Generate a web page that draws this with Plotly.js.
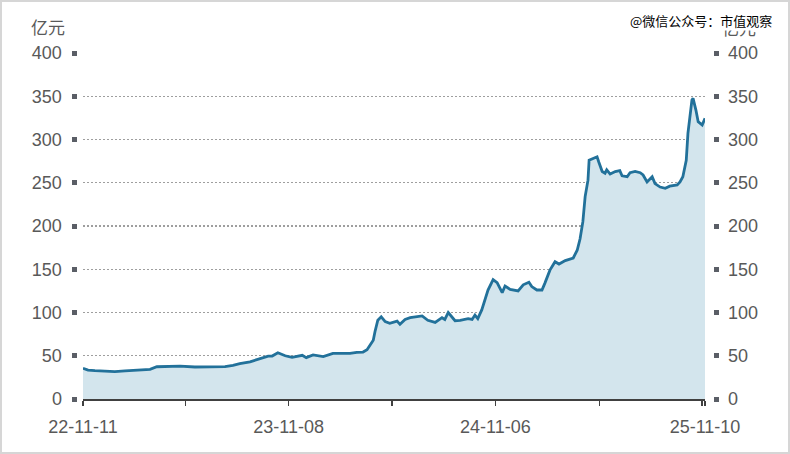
<!DOCTYPE html>
<html>
<head>
<meta charset="utf-8">
<script src="https://cdn.plot.ly/plotly-3.0.1.min.js"></script>
<style>
  html, body { margin: 0; padding: 0; background: #fff; }
  #wrap { position: relative; width: 790px; height: 454px; }
  #chart { position: absolute; left: 0; top: 0; width: 790px; height: 454px; }
  #frame { position: absolute; left: 0; top: 0; width: 790px; height: 454px; box-sizing: border-box; border: 2px solid #d6d6d6; pointer-events: none; }
</style>
</head>
<body>
<div id="wrap"><div id="chart"></div><div id="frame"></div></div>
<script>
// ---- data (亿元) ----
const dates = [
  '2022-11-11','2022-11-20','2022-12-02','2022-12-20','2023-01-06','2023-01-24','2023-02-11','2023-02-28',
  '2023-03-09','2023-03-21','2023-04-08','2023-05-01','2023-05-27','2023-06-23','2023-07-19','2023-08-02',
  '2023-08-14','2023-09-01','2023-09-15','2023-09-24','2023-10-03','2023-10-10','2023-10-20','2023-11-02',
  '2023-11-14','2023-12-02','2023-12-09','2023-12-21','2024-01-08','2024-01-25','2024-02-12','2024-02-24',
  '2024-03-07','2024-03-18','2024-03-25','2024-03-30','2024-04-05','2024-04-08','2024-04-13','2024-04-19',
  '2024-04-26','2024-05-04','2024-05-17','2024-05-22','2024-05-31','2024-06-09','2024-06-21','2024-06-30',
  '2024-07-10','2024-07-23','2024-08-04','2024-08-09','2024-08-15','2024-08-27','2024-09-05','2024-09-19',
  '2024-09-26','2024-10-01','2024-10-06','2024-10-13','2024-10-24','2024-11-02','2024-11-09','2024-11-18',
  '2024-11-23','2024-12-02','2024-12-16','2024-12-25','2025-01-04','2025-01-09','2025-01-18','2025-01-27',
  '2025-02-01','2025-02-10','2025-02-19','2025-02-26','2025-03-09','2025-03-23','2025-03-30','2025-04-04',
  '2025-04-09','2025-04-13','2025-04-18','2025-04-20','2025-04-27','2025-05-04','2025-05-07','2025-05-13',
  '2025-05-18','2025-05-21','2025-05-27','2025-06-05','2025-06-13','2025-06-17','2025-06-26','2025-07-01',
  '2025-07-10','2025-07-19','2025-07-24','2025-07-31','2025-08-09','2025-08-14','2025-08-23','2025-09-01',
  '2025-09-09','2025-09-22','2025-09-27','2025-10-02','2025-10-08','2025-10-11','2025-10-18','2025-10-20',
  '2025-10-25','2025-10-29','2025-11-05','2025-11-10'
];
const values = [
  35.5, 33.5, 32.7, 32.5, 31.6, 32.5, 33.0, 33.5,
  34.3, 37.3, 37.5, 38.0, 37.0, 37.5, 37.5, 39.0,
  41.0, 43.0, 45.5, 47.8, 49.5, 49.7, 53.5, 50.0,
  48.2, 50.5, 47.8, 50.9, 49.0, 52.8, 52.8, 52.8,
  54.0, 54.3, 57.0, 62.4, 68.0, 77.8, 91.0, 95.0,
  89.4, 87.5, 90.0, 86.3, 92.0, 94.0, 95.0, 96.0,
  91.0, 88.6, 94.0, 92.0, 100.0, 90.5, 91.0, 93.0,
  92.0, 97.0, 93.0, 103.0, 126.0, 138.0, 134.5, 123.0,
  130.6, 126.8, 125.0, 132.0, 135.0, 130.0, 126.0, 126.0,
  133.7, 149.0, 158.7, 156.0, 160.0, 163.0, 172.0, 185.0,
  205.0, 234.0, 253.0, 276.0, 278.0, 280.0, 274.0, 263.0,
  261.0, 265.0, 260.0, 263.0, 264.0, 258.0, 257.0, 261.6,
  263.0, 261.6, 259.0, 251.0, 257.0, 249.0, 245.0, 243.6,
  246.0, 247.4, 251.0, 257.0, 276.0, 307.5, 345.7, 347.6,
  334.0, 320.6, 316.8, 324.5
];
const xTickVals = ['2022-11-11','2023-05-10','2023-11-08','2024-05-08','2024-11-06','2025-05-08','2025-11-05','2025-11-10'];
const xTickText = ['22-11-11','','23-11-08','','24-11-06','','','25-11-10'];
const yTickVals = [0, 50, 100, 150, 200, 250, 300, 350, 400];
const unitLabel = '亿元';
const watermark = '@微信公众号：市值观察';

// ---- layout geometry ----
const W = 790, H = 454;
const mL = 60, mR = 60, mT = 53, mB = 55;
const pw = W - mL - mR, ph = H - mT - mB;
const px = x => (x - mL) / pw;
const py = y => (H - mB - y) / ph;

const lineColor = '#22719a';
const fillColor = '#d3e5ed';
const textColor = '#595959';
const font = 'Liberation Sans, Arial, sans-serif';

const traces = [
  {
    x: dates, y: values, type: 'scatter', mode: 'lines',
    fill: 'tozeroy', fillcolor: fillColor,
    line: { color: lineColor, width: 2.8 },
    hoverinfo: 'x+y', xaxis: 'x', yaxis: 'y'
  },
  {
    x: dates, y: values, type: 'scatter', mode: 'lines',
    line: { color: 'rgba(0,0,0,0)', width: 0 },
    hoverinfo: 'skip', xaxis: 'x', yaxis: 'y2', showlegend: false
  }
];

const yCommon = {
  range: [0, 400], tickmode: 'array', tickvals: yTickVals,
  ticks: 'outside', ticklen: 5, tickwidth: 5, tickcolor: '#5a5e66',
  showline: false, zeroline: false,
  tickfont: { family: font, size: 18, color: textColor },
  anchor: 'free', fixedrange: true
};

const layout = {
  width: W, height: H,
  margin: { l: mL, r: mR, t: mT, b: mB },
  paper_bgcolor: '#ffffff', plot_bgcolor: '#ffffff',
  showlegend: false,
  font: { family: font, size: 18, color: textColor },
  xaxis: {
    type: 'date', domain: [px(83), px(705)], range: ['2022-11-11', '2025-11-10'],
    tickmode: 'array', tickvals: xTickVals, ticktext: xTickText,
    ticks: 'outside', ticklen: 5, tickwidth: 1.5, tickcolor: '#404040',
    showline: true, linecolor: '#404040', linewidth: 1.5,
    showgrid: false, zeroline: false, anchor: 'y',
    tickfont: { family: font, size: 18, color: textColor },
    ticklabelstandoff: 6, fixedrange: true
  },
  yaxis: Object.assign({}, yCommon, {
    position: px(76.5), side: 'left',
    showgrid: true, gridcolor: '#9e9e9e', griddash: '1.5px,2.5px', gridwidth: 1.2,
    ticklabelstandoff: 6
  }),
  yaxis2: Object.assign({}, yCommon, {
    position: px(712.5), side: 'right', overlaying: 'y',
    showgrid: false, ticklabelstandoff: 6
  }),
  annotations: [
    { text: unitLabel, xref: 'paper', yref: 'paper', x: px(48), y: py(26.5),
      xanchor: 'center', yanchor: 'middle', showarrow: false,
      font: { family: 'Noto Sans CJK SC, sans-serif', size: 17, color: textColor } },
    { text: unitLabel, xref: 'paper', yref: 'paper', x: px(739.5), y: py(28),
      xanchor: 'center', yanchor: 'middle', showarrow: false,
      font: { family: 'Noto Sans CJK SC, sans-serif', size: 17, color: textColor } },
    { text: watermark, xref: 'paper', yref: 'paper', x: px(773), y: py(20.5),
      xanchor: 'right', yanchor: 'middle', showarrow: false,
      bgcolor: '#ffffff', borderpad: 0,
      font: { family: 'Noto Sans CJK SC, sans-serif', size: 13, color: '#000000' } }
  ]
};

Plotly.newPlot('chart', traces, layout, { displayModeBar: false, staticPlot: true });
</script>
</body>
</html>
